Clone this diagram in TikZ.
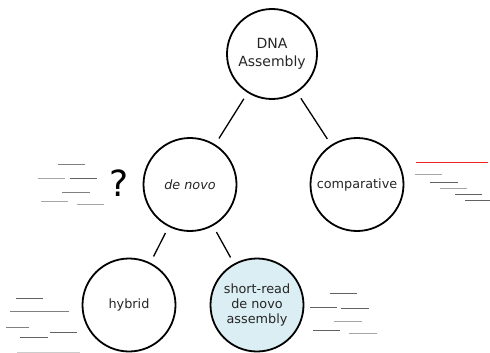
\documentclass[tikz,border=0pt]{standalone}
\usepackage{fontspec}
\setmainfont{DejaVu Sans}
\begin{document}
\begin{tikzpicture}[x=1pt,y=-1pt,
  bubble/.style={circle,draw=black,line width=1.8pt,minimum size=93pt,inner sep=0pt,align=center,
     font=\fontsize{12.8}{15.3}\selectfont,text=black!85},
  link/.style={line width=1.3pt,shorten <=7pt,shorten >=7pt},
  rd/.style={line width=1pt},
  gA/.style={rd,draw=black!35},
  gB/.style={rd,draw=black!50},
  gC/.style={rd,draw=black!62},
  gD/.style={rd,draw=black!20}]
\useasboundingbox (0,0) rectangle (490,353);
\node[bubble,minimum size=90pt,font=\fontsize{14}{17.7}\selectfont] (dna) at (272,54) {DNA\\Assembly};
\node[bubble] (denovo) at (190,184.5) {\itshape de novo};
\node[bubble] (comp) at (357,184.5) {comparative};
\node[bubble] (hyb) at (129,305) {hybrid};
\node[bubble,fill={rgb,255:red,218;green,238;blue,243}] (sr) at (257,305) {short-read\\de novo\\assembly};
\draw[link] (dna) -- (denovo);
\draw[link] (dna) -- (comp);
\draw[link] (denovo) -- (hyb);
\draw[link] (denovo) -- (sr);
\node[font=\fontsize{36}{36}\selectfont,text=black] (q) at (119,183) {?};
% left group
\draw[gB] (58,164.5) -- (85,164.5);
\draw[gA] (38,178.5) -- (65,178.5);
\draw[gC] (70,178.5) -- (97,178.5);
\draw[gB] (62,192.5) -- (90,192.5);
\draw[gA] (41,201.5) -- (68,201.5);
\draw[gA] (77,204.5) -- (104,204.5);
% right group
\draw[line width=1.5pt,draw={rgb,255:red,238;green,34;blue,34}] (416,162.5) -- (488,162.5);
\draw[gA] (415,174.5) -- (442,174.5);
\draw[gC] (430,182.5) -- (458,182.5);
\draw[gA] (440,188.5) -- (467,188.5);
\draw[gC] (455,194.5) -- (482,194.5);
\draw[gC] (465,200.5) -- (490,200.5);
% bottom left group
\draw[gC] (16,298.5) -- (43,298.5);
\draw[gB] (10,311.5) -- (69,311.5);
\draw[gB] (6,327.5) -- (29,327.5);
\draw[gC] (50,332.5) -- (77,332.5);
\draw[gC] (20,337.5) -- (48,337.5);
\draw[gD] (17,352.5) -- (80,352.5);
% bottom right group
\draw[gC] (330,293.5) -- (357,293.5);
\draw[gC] (310,307.5) -- (337,307.5);
\draw[gC] (341,308.5) -- (369,308.5);
\draw[gA] (334,321.5) -- (362,321.5);
\draw[gC] (313,330.5) -- (340,330.5);
\draw[gA] (349,333.5) -- (377,333.5);
\end{tikzpicture}
\end{document}
